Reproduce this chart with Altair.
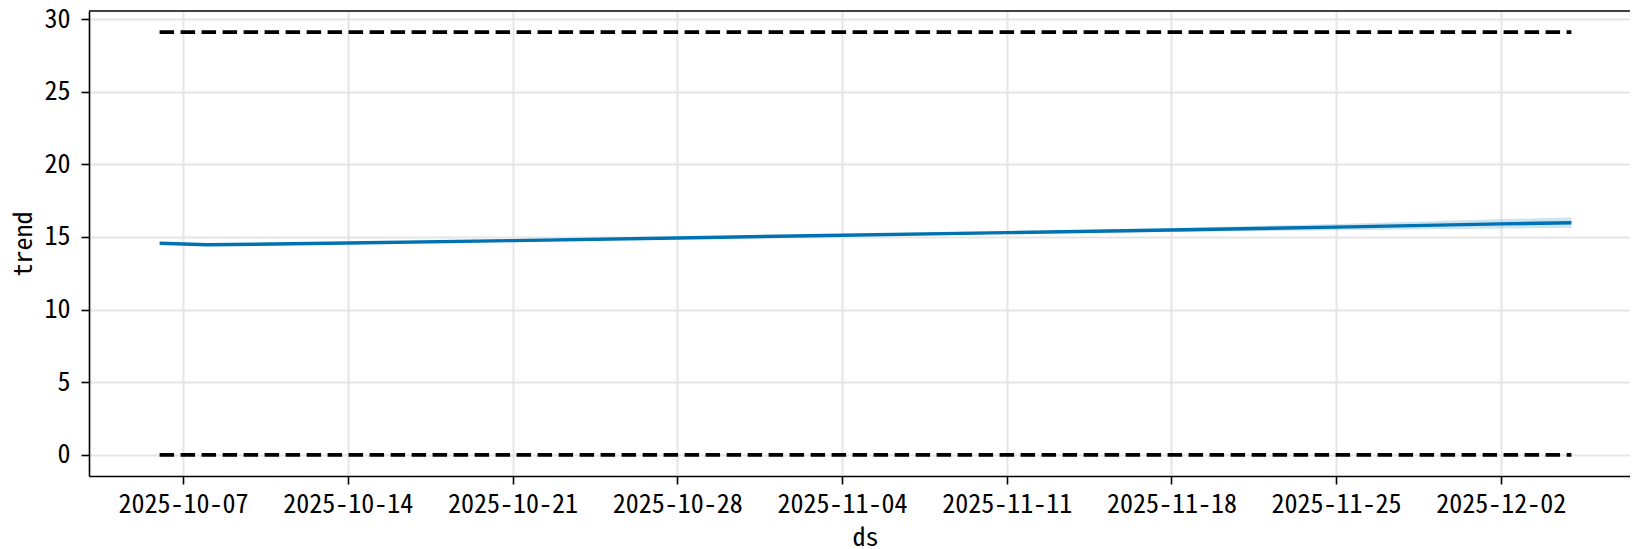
import altair as alt
import pandas as pd

# ---- data ----
trend_dates = ["2025-10-06", "2025-10-08", "2025-10-14", "2025-10-21", "2025-10-28",
               "2025-11-04", "2025-11-11", "2025-11-18", "2025-11-25", "2025-12-02", "2025-12-05"]
trend_vals = [14.57, 14.46, 14.58, 14.75, 14.93, 15.12, 15.30, 15.48, 15.68, 15.90, 15.98]
trend_lower = [14.57, 14.46, 14.58, 14.75, 14.93, 15.12, 15.24, 15.35, 15.46, 15.58, 15.62]
trend_upper = [14.57, 14.46, 14.58, 14.75, 14.93, 15.12, 15.36, 15.61, 15.90, 16.22, 16.34]

bound_dates = ["2025-10-06", "2025-12-05"]
cap_vals = [29.1, 29.1]
floor_vals = [0.0, 0.0]

tick_dates = [(2025, 10, 7), (2025, 10, 14), (2025, 10, 21), (2025, 10, 28), (2025, 11, 4),
              (2025, 11, 11), (2025, 11, 18), (2025, 11, 25), (2025, 12, 2)]
y_ticks = [0, 5, 10, 15, 20, 25, 30]

df = pd.DataFrame({"ds": trend_dates, "trend": trend_vals,
                   "lower": trend_lower, "upper": trend_upper})
df_b = pd.DataFrame({"ds": bound_dates, "cap": cap_vals, "floor": floor_vals})

FONT = "Noto Sans Mono CJK JP, DejaVu Sans Mono, monospace"
FS = 26

x_scale = alt.Scale(type="utc",
                    domain=[alt.DateTime(year=2025, month=10, date=3, utc=True),
                            alt.DateTime(year=2025, month=12, date=7, hours=11, minutes=47,
                                         utc=True)])
y_scale = alt.Scale(domain=[-1.455, 30.555], nice=False, zero=False)

bottom_axis = alt.Axis(
    values=[alt.DateTime(year=y, month=m, date=d, utc=True) for (y, m, d) in tick_dates],
    format="%Y-%m-%d", labelAngle=0, grid=True, gridColor="#e5e5e5", gridWidth=2,
    domain=True, domainColor="black", domainWidth=1.6,
    tickColor="black", tickWidth=1.6, tickSize=8,
    labelBaseline="alphabetic", labelPadding=28, labelFontSize=FS, labelColor="black",
    labelFlush=False, labelOverlap=False,
    titleFontSize=FS, titleFontWeight="normal", titleColor="black",
    titleBaseline="alphabetic", titleY=69, titleAnchor="middle", titleX=776)

left_axis = alt.Axis(values=y_ticks, grid=True, gridColor="#e5e5e5", gridWidth=2,
                     domain=True, domainColor="black", domainWidth=1.6,
                     tickColor="black", tickWidth=1.6,
                     tickSize=8, labelPadding=11, labelFontSize=FS, labelColor="black",
                     labelFlush=False,
                     titleFontSize=FS, titleFontWeight="normal", titleColor="black",
                     titleX=-66, titleY=232.5, titleAngle=-90, titleAlign="center",
                     titleBaseline="middle")

band = alt.Chart(df).mark_area(color="#0072B2", opacity=0.2).encode(
    x=alt.X("ds:T", scale=x_scale, axis=bottom_axis, title="ds"),
    y=alt.Y("lower:Q", scale=y_scale, axis=left_axis, title="trend"),
    y2="upper:Q")

line = alt.Chart(df).mark_line(color="#0072B2", strokeWidth=3.4).encode(
    x=alt.X("ds:T", scale=x_scale, axis=bottom_axis, title="ds"),
    y=alt.Y("trend:Q", scale=y_scale, axis=left_axis, title="trend"))

bounds = alt.Chart(df_b).transform_fold(["cap", "floor"], as_=["key", "value"]).mark_line(
    color="black", strokeWidth=3.8, strokeDash=[14.5, 6.5]).encode(
    x=alt.X("ds:T", scale=x_scale, axis=bottom_axis, title="ds"),
    y=alt.Y("value:Q", scale=y_scale, axis=left_axis, title="trend"),
    detail="key:N")

# top spine of the frame (the right spine lies outside the visible window in the reference)
top_spine = alt.Chart(pd.DataFrame({"k": [0]})).mark_rule(
    color="black", strokeWidth=1.6).encode(y=alt.value(0))

chart = alt.layer(band, line, bounds, top_spine).properties(
    width=1541, height=465,
    autosize=alt.AutoSizeParams(type="none"),
    padding={"left": 81, "top": 3, "right": 0, "bottom": 73},
).configure(font=FONT).configure_view(strokeWidth=0)

chart.save("out.html", embed_options={"renderer": "svg", "actions": False})
